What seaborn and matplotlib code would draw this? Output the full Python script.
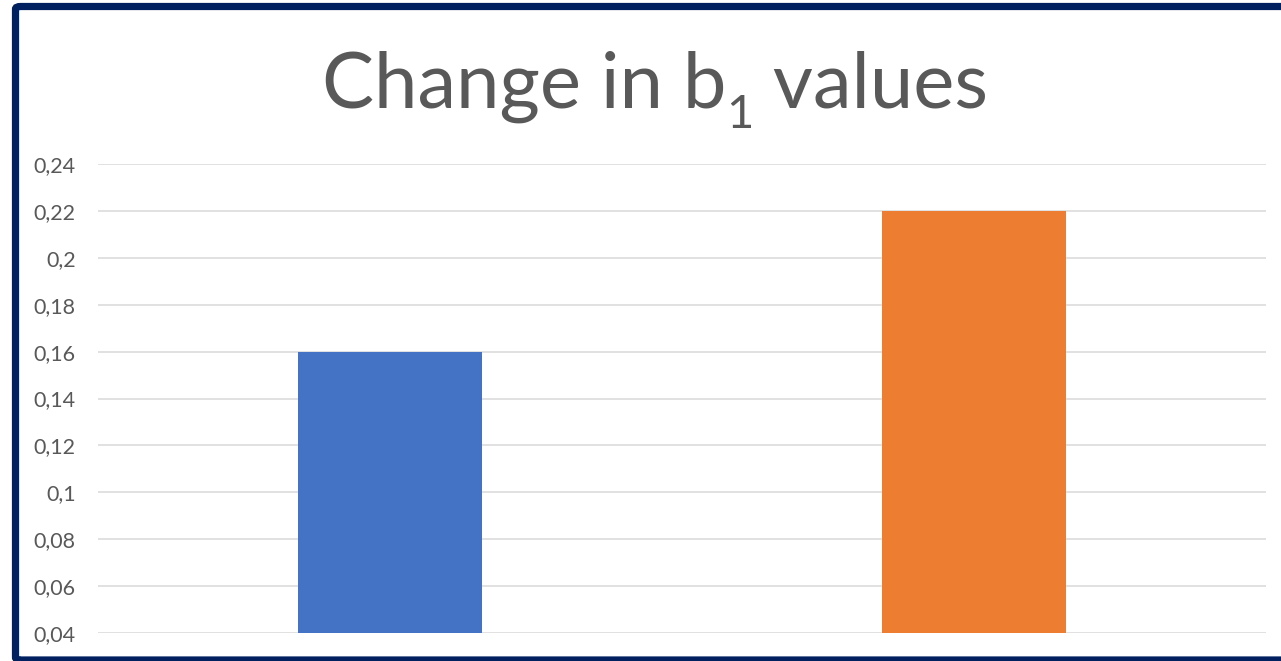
import matplotlib
matplotlib.use("Agg")
import matplotlib.pyplot as plt
from matplotlib.patches import FancyBboxPatch
from matplotlib.ticker import FuncFormatter, MultipleLocator
import pandas as pd
import seaborn as sns

categories = ["Before", "After"]
values = [0.16, 0.22]
bar_colors = ["#4472C4", "#ED7D31"]

W, H = 1281, 661
sns.set_style("white")
plt.rcParams["font.family"] = ["Lato", "DejaVu Sans"]

fig = plt.figure(figsize=(W / 100, H / 100), dpi=100)
ax = fig.add_axes([98 / W, 1 - 633 / H, (1266 - 98) / W, (633 - 164) / H])

df = pd.DataFrame({"cat": categories, "val": values})
sns.barplot(data=df, x="cat", y="val", hue="cat", palette=bar_colors,
            width=0.315, legend=False, ax=ax, zorder=3, saturation=1,
            linewidth=0)

ax.set_ylim(0.04, 0.24)
ax.yaxis.set_major_locator(MultipleLocator(0.02))
ax.yaxis.set_major_formatter(FuncFormatter(
    lambda v, _: f"{v:.2f}".rstrip("0").replace(".", ",")))
ax.grid(axis="y", color="#d9d9d9", linewidth=1.1, zorder=0)
ax.set_axisbelow(True)
for s in ax.spines.values():
    s.set_visible(False)
ax.set_xlabel("")
ax.set_ylabel("")
ax.set_xticks([])
ax.tick_params(axis="y", length=0, pad=16, labelsize=15.5, labelcolor="#595959")

# title in three pieces so the subscript sits like the original
title_color = "#595959"
parts = [("Change in b", 56, 0), ("1", 34, -20), (" values", 56, 0)]
renderer = fig.canvas.get_renderer()
texts = []
for s, size, dy in parts:
    t = fig.text(0, 0, s, fontsize=size, color=title_color, va="baseline")
    texts.append((t, dy))
widths = [t.get_window_extent(renderer).width for t, _ in texts]
x = 655 - sum(widths) / 2
for (t, dy), w in zip(texts, widths):
    t.set_position((x / W, 1 - (108 - dy) / H))
    x += w

# dark frame around the chart area
frame = FancyBboxPatch((15.5 / W, 1 / H), (1300 - 15.5) / W, (H - 6.5 - 1) / H,
                       boxstyle="round,pad=0,rounding_size=0.004",
                       transform=fig.transFigure, fill=False,
                       edgecolor="#002060", linewidth=5.2, zorder=10)
fig.patches.append(frame)

fig.savefig("out.png", dpi=100, facecolor="white")
